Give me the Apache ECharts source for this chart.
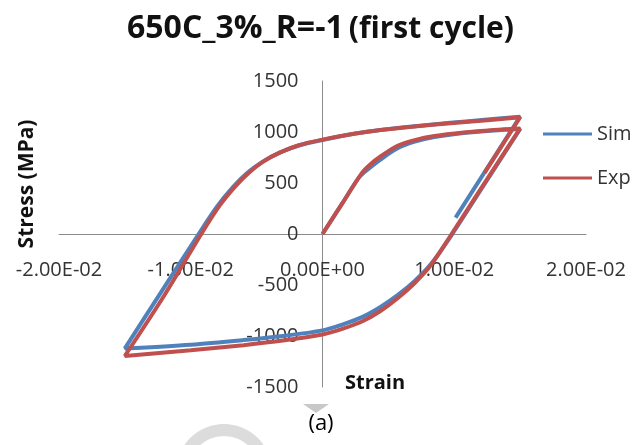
<!DOCTYPE html>
<html>
<head>
<meta charset="utf-8">
<script src="https://cdn.jsdelivr.net/npm/echarts@6/dist/echarts.min.js"></script>
<style>
  html, body { margin: 0; padding: 0; background: #ffffff; }
  #chart { width: 636px; height: 445px; }
</style>
</head>
<body>
<div id="chart"></div>
<script>
// First hysteresis cycle at 650 C, 3% strain range, R = -1
// Strain in mm/mm, stress in MPa.

// Simulation
const simStrain = [
  0, 0.0015, 0.0028, 0.0036, 0.0044, 0.0057, 0.0070, 0.0085, 0.0107, 0.0130, 0.0150,
  0.0120, 0.0098, 0.0082, 0.0070, 0.0057, 0.0044, 0.0030, 0.0015, 0, -0.0030, -0.0060, -0.0100, -0.0150,
  -0.0122, -0.0094, -0.0080, -0.0068, -0.0057, -0.0046, -0.0033, -0.0018, 0, 0.0025, 0.0044, 0.0070, 0.0097, 0.0125, 0.0150,
  0.0101
];
const simStress = [
  0, 300, 560, 650, 730, 840, 905, 950, 990, 1015, 1030,
  430, -10, -300, -460, -600, -715, -815, -888, -945, -1000, -1040, -1085, -1122,
  -560, 0, 270, 460, 600, 705, 795, 868, 922, 985, 1020, 1057, 1090, 1122, 1150,
  160
];

// Experiment
const expStrain = [
  0, 0.0015, 0.0030, 0.0036, 0.0044, 0.0057, 0.0070, 0.0085, 0.0107, 0.0130, 0.0150,
  0.0120, 0.0098, 0.0082, 0.0070, 0.0057, 0.0044, 0.0030, 0.0015, 0, -0.0030, -0.0060, -0.0100, -0.0150,
  -0.0120, -0.0092, -0.0078, -0.0066, -0.0055, -0.0045, -0.0032, -0.0018, 0, 0.0025, 0.0044, 0.0070, 0.0097, 0.0125, 0.0150,
  0.0123
];
const expStress = [
  0, 300, 600, 680, 760, 865, 920, 960, 995, 1020, 1035,
  440, 0, -310, -480, -630, -755, -858, -930, -985, -1045, -1090, -1140, -1195,
  -600, 0, 280, 470, 610, 710, 800, 870, 925, 985, 1020, 1055, 1085, 1115, 1145,
  600
];

const strainTicks = [-0.02, -0.01, 0, 0.01, 0.02];
const stressTicks = [-1500, -1000, -500, 0, 500, 1000, 1500];

const seriesNames = ['Sim', 'Exp'];
const seriesColors = ['#4F81BD', '#C0504D'];

function pairs(xs, ys) {
  return xs.map(function (x, i) { return [x, ys[i]]; });
}

// Scientific label in the form 1.00E-02
function sciLabel(v) {
  const r = Math.round(v * 1e9) / 1e9;
  const parts = r.toExponential(2).split('e');
  const sign = parts[1].charAt(0) === '-' ? '-' : '+';
  const digits = parts[1].replace(/[+-]/, '');
  return parts[0] + 'E' + sign + (digits.length < 2 ? '0' + digits : digits);
}

const baseFont = '"Open Sans", "Noto Sans", "Liberation Sans", sans-serif';

// plot area in pixels
const grid = { left: 59, right: 50, top: 81, bottom: 58 };
const plotW = 636 - grid.left - grid.right;
const plotH = 445 - grid.top - grid.bottom;
const xMin = strainTicks[0], xMax = strainTicks[strainTicks.length - 1];
const yMin = stressTicks[0], yMax = stressTicks[stressTicks.length - 1];
// axes cross at the origin: shift them inwards from the plot edges
const yAxisShift = plotW * (0 - xMin) / (xMax - xMin);
const xAxisShift = plotH * (0 - yMin) / (yMax - yMin);

const chart = echarts.init(document.getElementById('chart'), null, { renderer: 'canvas' });

chart.setOption({
  animation: false,
  backgroundColor: '#ffffff',
  title: {
    text: '{a|650C_3%_R=-1} {b|(first cycle)}',
    left: 122,
    top: 8,
    textStyle: {
      rich: {
        a: { fontFamily: baseFont, fontWeight: 'bold', fontSize: 32, color: '#111' },
        b: { fontFamily: baseFont, fontWeight: 'bold', fontSize: 30, color: '#111' }
      }
    }
  },
  legend: {
    data: seriesNames,
    orient: 'vertical',
    left: 543,
    top: 123,
    padding: 0,
    icon: 'rect',
    itemWidth: 49,
    itemHeight: 3,
    itemGap: 22,
    textStyle: { fontFamily: baseFont, fontSize: 20, lineHeight: 22, color: '#333' }
  },
  grid: Object.assign({ containLabel: false, outerBoundsMode: 'none' }, grid),
  xAxis: {
    type: 'value',
    min: xMin,
    max: xMax,
    interval: strainTicks[1] - strainTicks[0],
    offset: -xAxisShift,
    axisLine: { show: true, onZero: false, lineStyle: { color: '#8c8c8c', width: 1 } },
    axisTick: { show: false },
    splitLine: { show: false },
    axisLabel: {
      margin: 26,
      fontFamily: baseFont,
      fontSize: 20,
      color: '#333',
      formatter: sciLabel
    }
  },
  yAxis: {
    type: 'value',
    min: yMin,
    max: yMax,
    interval: stressTicks[1] - stressTicks[0],
    offset: -yAxisShift,
    axisLine: { show: true, onZero: false, lineStyle: { color: '#8c8c8c', width: 1 } },
    axisTick: { show: false },
    splitLine: { show: false },
    axisLabel: {
      margin: 24,
      fontFamily: baseFont,
      fontSize: 20,
      color: '#333',
      formatter: function (v) { return String(v); }
    }
  },
  series: [
    {
      name: seriesNames[0],
      type: 'line',
      data: pairs(simStrain, simStress),
      symbol: 'none',
      smooth: 0.3,
      color: seriesColors[0],
      lineStyle: { width: 4, color: seriesColors[0] },
      z: 2
    },
    {
      name: seriesNames[1],
      type: 'line',
      data: pairs(expStrain, expStress),
      symbol: 'none',
      smooth: 0.3,
      color: seriesColors[1],
      lineStyle: { width: 4, color: seriesColors[1] },
      z: 3
    }
  ],
  graphic: [
    {
      type: 'text',
      x: 27,
      y: 184,
      rotation: Math.PI / 2,
      style: {
        text: 'Stress (MPa)',
        font: 'bold 21px ' + baseFont,
        fill: '#111',
        textAlign: 'center',
        textVerticalAlign: 'middle'
      }
    },
    {
      type: 'text',
      x: 345,
      y: 383,
      style: {
        text: 'Strain',
        font: 'bold 20px ' + baseFont,
        fill: '#111',
        textAlign: 'left',
        textVerticalAlign: 'middle'
      }
    },
    {
      type: 'text',
      x: 321,
      y: 424,
      style: {
        text: '(a)',
        font: '22px ' + baseFont,
        fill: '#000',
        textAlign: 'center',
        textVerticalAlign: 'middle'
      }
    },
    // faint grey marks along the lower edge
    {
      type: 'polygon',
      shape: { points: [[303, 404], [329, 404], [316, 413]] },
      style: { fill: '#c8c8c8' },
      z: -1
    },
    {
      type: 'ring',
      shape: { cx: 224, cy: 472, r: 48, r0: 36 },
      style: { fill: '#dcdcdc' },
      z: -1
    }
  ]
});
</script>
</body>
</html>
